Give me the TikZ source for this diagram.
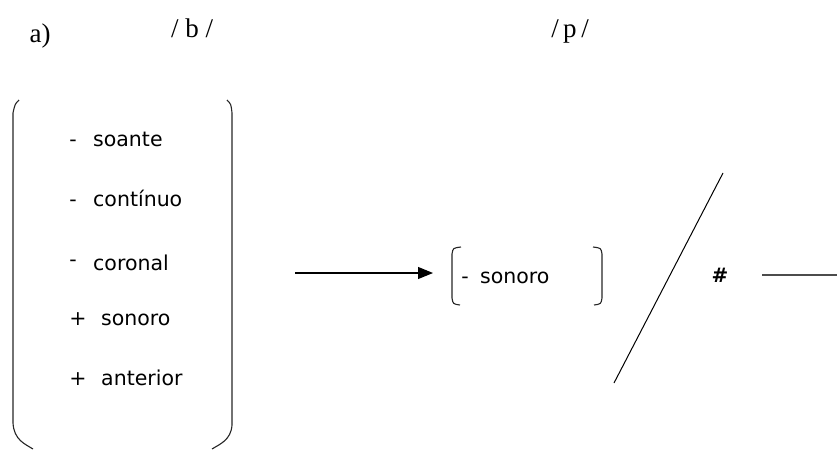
\documentclass[tikz,border=0pt]{standalone}
\usepackage{fontspec}
\setmainfont{DejaVu Sans}
\newfontfamily\headfont{Liberation Serif}
\usetikzlibrary{arrows.meta}
\begin{document}
\begin{tikzpicture}[x=1pt,y=-1pt,
  feat/.style={anchor=base west,inner sep=0pt,font=\fontsize{20.5}{21}\selectfont},
  sign/.style={anchor=base,inner sep=0pt,font=\fontsize{20.5}{21}\selectfont},
  head/.style={anchor=base,inner sep=0pt,font=\headfont\fontsize{27}{30}\selectfont},
  brk/.style={line width=1.1pt,black!85},
  arr/.style={line width=1.1pt,-{Triangle[length=15pt,width=12pt]}}]
\useasboundingbox (0,0) rectangle (837,450);
% header
\node[head] (lbl) at (40,42) {a)};
\node[head] (b) at (192,37) {/ b /};
\node[head] (p) at (570,37) {/\,p\,/};
% big parentheses
\draw[brk] (19,100) .. controls (15,104) .. (13,113) -- (13,423)
  .. controls (14,440) and (25,444) .. (33,449);
\draw[brk] (227,100) .. controls (231,104) .. (232,113) -- (232,425)
  .. controls (231,440) and (220,444) .. (212,449);
% features
\node[sign] (s1) at (73,146) {-};
\node[feat] (f1) at (93,146) {soante};
\node[sign] (s2) at (73,206) {-};
\node[feat] (f2) at (93,206) {contínuo};
\node[sign] (s3) at (73,266) {-};
\node[feat] (f3) at (93,270) {coronal};
\node[sign] (s4) at (78,325) {+};
\node[feat] (f4) at (101,325) {sonoro};
\node[sign] (s5) at (78,385) {+};
\node[feat] (f5) at (101,385) {anterior};
% arrow
\coordinate (a1) at (295,273);
\coordinate (a2) at (433,273);
\draw[arr] (a1) -- (a2);
% small brackets
\draw[brk] (461,247) .. controls (453,248) .. (452,254) -- (452,298)
  .. controls (453,304) .. (460,305);
\draw[brk] (593,247) .. controls (601,248) .. (602,254) -- (602,298)
  .. controls (601,304) .. (594,305);
\node[sign] (sm) at (465,283) {-};
\node[feat] (son) at (480,283) {sonoro};
% slash
\coordinate (sl1) at (614,383);
\coordinate (sl2) at (723,173);
\draw[line width=1pt] (sl1) -- (sl2);
% boundary
\node[anchor=center,inner sep=0pt,font=\bfseries\fontsize{20}{22}\selectfont] (hash) at (720,275) {\#};
\coordinate (r1) at (762,275);
\coordinate (r2) at (837,275);
\draw[line width=1.8pt,black!70] (r1) -- (r2);
\end{tikzpicture}
\end{document}
